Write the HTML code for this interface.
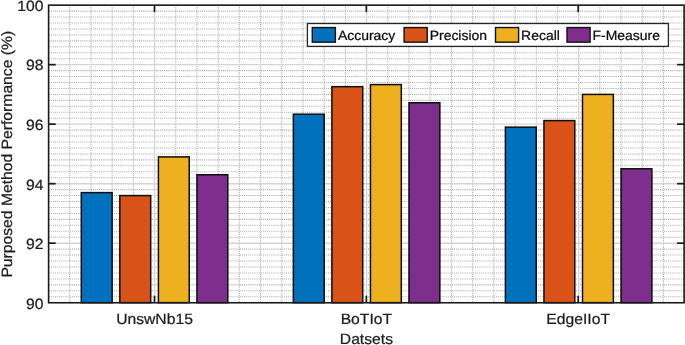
<!DOCTYPE html>
<html lang="en"><head><meta charset="utf-8"><title>Chart</title>
<style>html,body{margin:0;padding:0;background:#fff}body{width:685px;height:345px;overflow:hidden}</style></head>
<body>
<svg width="685" height="345" viewBox="0 0 685 345" style="display:block">
<rect x="0" y="0" width="685" height="345" fill="#fff"/>
<g stroke="#a8a8a8" stroke-width="1.05" stroke-dasharray="1 1.1" fill="none">
<line x1="48.7" x2="684.1" y1="296.75" y2="296.75"/>
<line x1="48.7" x2="684.1" y1="290.80" y2="290.80"/>
<line x1="48.7" x2="684.1" y1="284.85" y2="284.85"/>
<line x1="48.7" x2="684.1" y1="278.90" y2="278.90"/>
<line x1="48.7" x2="684.1" y1="272.94" y2="272.94"/>
<line x1="48.7" x2="684.1" y1="266.99" y2="266.99"/>
<line x1="48.7" x2="684.1" y1="261.04" y2="261.04"/>
<line x1="48.7" x2="684.1" y1="255.09" y2="255.09"/>
<line x1="48.7" x2="684.1" y1="249.14" y2="249.14"/>
<line x1="48.7" x2="684.1" y1="237.24" y2="237.24"/>
<line x1="48.7" x2="684.1" y1="231.29" y2="231.29"/>
<line x1="48.7" x2="684.1" y1="225.34" y2="225.34"/>
<line x1="48.7" x2="684.1" y1="219.39" y2="219.39"/>
<line x1="48.7" x2="684.1" y1="213.44" y2="213.44"/>
<line x1="48.7" x2="684.1" y1="207.48" y2="207.48"/>
<line x1="48.7" x2="684.1" y1="201.53" y2="201.53"/>
<line x1="48.7" x2="684.1" y1="195.58" y2="195.58"/>
<line x1="48.7" x2="684.1" y1="189.63" y2="189.63"/>
<line x1="48.7" x2="684.1" y1="177.73" y2="177.73"/>
<line x1="48.7" x2="684.1" y1="171.78" y2="171.78"/>
<line x1="48.7" x2="684.1" y1="165.83" y2="165.83"/>
<line x1="48.7" x2="684.1" y1="159.88" y2="159.88"/>
<line x1="48.7" x2="684.1" y1="153.93" y2="153.93"/>
<line x1="48.7" x2="684.1" y1="147.97" y2="147.97"/>
<line x1="48.7" x2="684.1" y1="142.02" y2="142.02"/>
<line x1="48.7" x2="684.1" y1="136.07" y2="136.07"/>
<line x1="48.7" x2="684.1" y1="130.12" y2="130.12"/>
<line x1="48.7" x2="684.1" y1="118.22" y2="118.22"/>
<line x1="48.7" x2="684.1" y1="112.27" y2="112.27"/>
<line x1="48.7" x2="684.1" y1="106.32" y2="106.32"/>
<line x1="48.7" x2="684.1" y1="100.37" y2="100.37"/>
<line x1="48.7" x2="684.1" y1="94.42" y2="94.42"/>
<line x1="48.7" x2="684.1" y1="88.46" y2="88.46"/>
<line x1="48.7" x2="684.1" y1="82.51" y2="82.51"/>
<line x1="48.7" x2="684.1" y1="76.56" y2="76.56"/>
<line x1="48.7" x2="684.1" y1="70.61" y2="70.61"/>
<line x1="48.7" x2="684.1" y1="58.71" y2="58.71"/>
<line x1="48.7" x2="684.1" y1="52.76" y2="52.76"/>
<line x1="48.7" x2="684.1" y1="46.81" y2="46.81"/>
<line x1="48.7" x2="684.1" y1="40.86" y2="40.86"/>
<line x1="48.7" x2="684.1" y1="34.91" y2="34.91"/>
<line x1="48.7" x2="684.1" y1="28.95" y2="28.95"/>
<line x1="48.7" x2="684.1" y1="23.00" y2="23.00"/>
<line x1="48.7" x2="684.1" y1="17.05" y2="17.05"/>
<line x1="48.7" x2="684.1" y1="11.10" y2="11.10"/>
<line y1="5.15" y2="302.7" x1="69.73" x2="69.73"/>
<line y1="5.15" y2="302.7" x1="90.94" x2="90.94"/>
<line y1="5.15" y2="302.7" x1="112.14" x2="112.14"/>
<line y1="5.15" y2="302.7" x1="133.35" x2="133.35"/>
<line y1="5.15" y2="302.7" x1="175.76" x2="175.76"/>
<line y1="5.15" y2="302.7" x1="196.96" x2="196.96"/>
<line y1="5.15" y2="302.7" x1="218.17" x2="218.17"/>
<line y1="5.15" y2="302.7" x1="239.37" x2="239.37"/>
<line y1="5.15" y2="302.7" x1="260.58" x2="260.58"/>
<line y1="5.15" y2="302.7" x1="281.78" x2="281.78"/>
<line y1="5.15" y2="302.7" x1="302.99" x2="302.99"/>
<line y1="5.15" y2="302.7" x1="324.19" x2="324.19"/>
<line y1="5.15" y2="302.7" x1="345.40" x2="345.40"/>
<line y1="5.15" y2="302.7" x1="387.81" x2="387.81"/>
<line y1="5.15" y2="302.7" x1="409.01" x2="409.01"/>
<line y1="5.15" y2="302.7" x1="430.21" x2="430.21"/>
<line y1="5.15" y2="302.7" x1="451.42" x2="451.42"/>
<line y1="5.15" y2="302.7" x1="472.63" x2="472.63"/>
<line y1="5.15" y2="302.7" x1="493.83" x2="493.83"/>
<line y1="5.15" y2="302.7" x1="515.04" x2="515.04"/>
<line y1="5.15" y2="302.7" x1="536.24" x2="536.24"/>
<line y1="5.15" y2="302.7" x1="557.45" x2="557.45"/>
<line y1="5.15" y2="302.7" x1="599.86" x2="599.86"/>
<line y1="5.15" y2="302.7" x1="621.06" x2="621.06"/>
<line y1="5.15" y2="302.7" x1="642.27" x2="642.27"/>
<line y1="5.15" y2="302.7" x1="663.47" x2="663.47"/>
</g>
<g stroke="#d4d4d4" stroke-width="1.4" fill="none">
<line x1="48.7" x2="684.1" y1="243.19" y2="243.19"/>
<line x1="48.7" x2="684.1" y1="183.68" y2="183.68"/>
<line x1="48.7" x2="684.1" y1="124.17" y2="124.17"/>
<line x1="48.7" x2="684.1" y1="64.66" y2="64.66"/>
<line y1="5.15" y2="302.7" x1="154.55" x2="154.55"/>
<line y1="5.15" y2="302.7" x1="366.60" x2="366.60"/>
<line y1="5.15" y2="302.7" x1="578.65" x2="578.65"/>
</g>
<g stroke="#1a1a1a" stroke-width="1.7" fill="none">
<line x1="48.7" x2="55.7" y1="243.19" y2="243.19"/>
<line x1="684.1" x2="677.1" y1="243.19" y2="243.19"/>
<line x1="48.7" x2="55.7" y1="183.68" y2="183.68"/>
<line x1="684.1" x2="677.1" y1="183.68" y2="183.68"/>
<line x1="48.7" x2="55.7" y1="124.17" y2="124.17"/>
<line x1="684.1" x2="677.1" y1="124.17" y2="124.17"/>
<line x1="48.7" x2="55.7" y1="64.66" y2="64.66"/>
<line x1="684.1" x2="677.1" y1="64.66" y2="64.66"/>
<line y1="302.7" y2="295.7" x1="154.50" x2="154.50"/>
<line y1="5.15" y2="12.15" x1="154.50" x2="154.50"/>
<line y1="302.7" y2="295.7" x1="366.35" x2="366.35"/>
<line y1="5.15" y2="12.15" x1="366.35" x2="366.35"/>
<line y1="302.7" y2="295.7" x1="578.20" x2="578.20"/>
<line y1="5.15" y2="12.15" x1="578.20" x2="578.20"/>
</g>
<g stroke="#0d0d0d" stroke-width="1.5">
<rect x="81.30" y="192.61" width="30.84" height="110.09" fill="#0072BD"/>
<rect x="119.85" y="195.58" width="30.84" height="107.12" fill="#D95319"/>
<rect x="158.41" y="156.90" width="30.84" height="145.80" fill="#EDB120"/>
<rect x="196.96" y="174.75" width="30.84" height="127.95" fill="#7E2F8E"/>
<rect x="293.35" y="114.20" width="30.84" height="188.50" fill="#0072BD"/>
<rect x="331.90" y="86.68" width="30.84" height="216.02" fill="#D95319"/>
<rect x="370.46" y="84.60" width="30.84" height="218.10" fill="#EDB120"/>
<rect x="409.01" y="102.75" width="30.84" height="199.95" fill="#7E2F8E"/>
<rect x="505.40" y="127.15" width="30.84" height="175.55" fill="#0072BD"/>
<rect x="543.95" y="120.60" width="30.84" height="182.10" fill="#D95319"/>
<rect x="582.51" y="94.42" width="30.84" height="208.28" fill="#EDB120"/>
<rect x="621.06" y="168.80" width="30.84" height="133.90" fill="#7E2F8E"/>
</g>
<rect x="48.6" y="5.15" width="635.50" height="297.60" fill="none" stroke="#1a1a1a" stroke-width="1.6"/>
<g font-family="Liberation Sans, Arial, Helvetica, sans-serif" text-rendering="geometricPrecision" font-size="15.7" fill="#1c1c1c" stroke="#1c1c1c" stroke-width="0.25">
<text transform="translate(43.55,309.15) scale(1,0.95)" text-anchor="end">90</text>
<text transform="translate(43.55,249.48) scale(1,0.95)" text-anchor="end">92</text>
<text transform="translate(43.55,189.81) scale(1,0.95)" text-anchor="end">94</text>
<text transform="translate(43.55,130.14) scale(1,0.95)" text-anchor="end">96</text>
<text transform="translate(43.55,70.47) scale(1,0.95)" text-anchor="end">98</text>
<text transform="translate(43.55,10.80) scale(1,0.95)" text-anchor="end">100</text>
<text transform="translate(154.50,324) scale(1,0.95)" text-anchor="middle">UnswNb15</text>
<text transform="translate(366.35,324) scale(1,0.95)" text-anchor="middle">BoTIoT</text>
<text transform="translate(578.20,324) scale(1,0.95)" text-anchor="middle">EdgeIIoT</text>
</g>
<g font-family="Liberation Sans, Arial, Helvetica, sans-serif" text-rendering="geometricPrecision" font-size="15.7" fill="#1c1c1c" stroke="#1c1c1c" stroke-width="0.25">
<text transform="translate(366.40,343.5) scale(1,0.95)" text-anchor="middle">Datsets</text>
<text transform="translate(11.8,154.22) rotate(-90) scale(1,0.95)" text-anchor="middle">Purposed Method Performance (%)</text>
</g>
<rect x="307.4" y="23.5" width="361.0" height="22.9" fill="#fff" stroke="#262626" stroke-width="1.3"/>
<g font-family="Liberation Sans, Arial, Helvetica, sans-serif" text-rendering="geometricPrecision" font-size="13.95" fill="#0c0c0c" stroke="#0c0c0c" stroke-width="0.25">
<rect x="312.3" y="27.55" width="23.1" height="14.6" fill="#0072BD" stroke="#111" stroke-width="1.4"/>
<text transform="translate(337.9,40.2) scale(1,0.96)">Accuracy</text>
<rect x="404.1" y="27.55" width="23.1" height="14.6" fill="#D95319" stroke="#111" stroke-width="1.4"/>
<text transform="translate(429.7,40.2) scale(1,0.96)">Precision</text>
<rect x="495.5" y="27.55" width="23.1" height="14.6" fill="#EDB120" stroke="#111" stroke-width="1.4"/>
<text transform="translate(521.1,40.2) scale(1,0.96)">Recall</text>
<rect x="567.0" y="27.55" width="23.1" height="14.6" fill="#7E2F8E" stroke="#111" stroke-width="1.4"/>
<text transform="translate(592.6,40.2) scale(1,0.96)">F-Measure</text>
</g>
</svg>
</body></html>
